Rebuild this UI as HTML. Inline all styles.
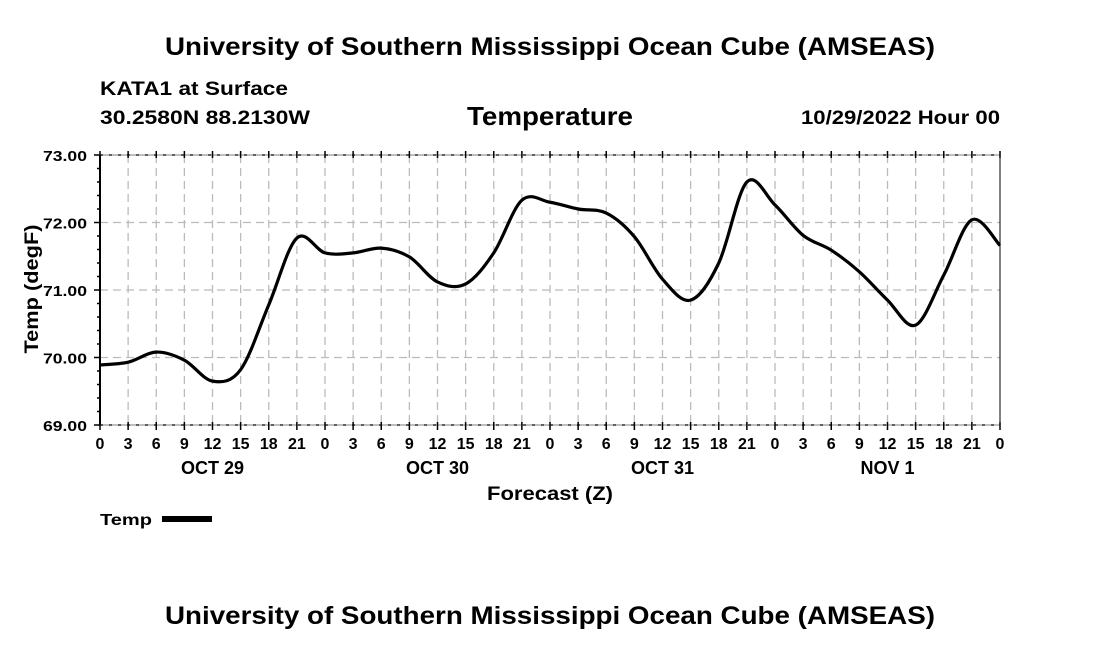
<!DOCTYPE html>
<html><head><meta charset="utf-8"><style>
html,body{margin:0;padding:0;background:#fff;width:1100px;height:650px;overflow:hidden}
svg text{font-family:"Liberation Sans",Arial,sans-serif;font-weight:bold;fill:#000}
</style></head><body>
<svg id="s" width="1100" height="650" xmlns="http://www.w3.org/2000/svg">
<text x="165" y="55" font-size="25" textLength="770" lengthAdjust="spacingAndGlyphs">University of Southern Mississippi Ocean Cube (AMSEAS)</text>
<text x="165" y="624" font-size="25" textLength="770" lengthAdjust="spacingAndGlyphs">University of Southern Mississippi Ocean Cube (AMSEAS)</text>
<text x="100" y="95" font-size="19" textLength="188" lengthAdjust="spacingAndGlyphs">KATA1 at Surface</text>
<text x="100" y="124" font-size="19" textLength="210" lengthAdjust="spacingAndGlyphs">30.2580N  88.2130W</text>
<text x="467" y="125" font-size="26" textLength="166" lengthAdjust="spacingAndGlyphs">Temperature</text>
<text x="801" y="124" font-size="19" textLength="199" lengthAdjust="spacingAndGlyphs">10/29/2022 Hour 00</text>
<text x="487" y="500" font-size="19" textLength="126" lengthAdjust="spacingAndGlyphs">Forecast (Z)</text>
<text x="38" y="289" font-size="19" text-anchor="middle" textLength="129" lengthAdjust="spacingAndGlyphs" transform="rotate(-90 38 289)">Temp (degF)</text>
<text x="100" y="525" font-size="16" textLength="52" lengthAdjust="spacingAndGlyphs">Temp</text>
<rect x="162" y="516" width="50" height="6" fill="#000"/>
<g id="g"></g>
</svg>
<script>
var g=document.getElementById('g'),h='';
var X0=100,X1=1000,Y0=155,Y1=425;
function xh(t){return X0+t*9.375}function yt(v){return Y0+(73-v)*67.5}
for(var i=1;i<32;i++){var x=xh(i*3);h+='<line x1="'+x+'" y1="'+Y0+'" x2="'+x+'" y2="'+Y1+'" stroke="#bbb" stroke-width="1.3" stroke-dasharray="8,5"/>';}
for(var v=70;v<=72;v++){var y=yt(v);h+='<line x1="'+X0+'" y1="'+y+'" x2="'+X1+'" y2="'+y+'" stroke="#bbb" stroke-width="1.3" stroke-dasharray="8,5"/>';}
h+='<line x1="'+X0+'" y1="'+Y0+'" x2="'+X1+'" y2="'+Y0+'" stroke="#000" stroke-width="1.2" stroke-dasharray="3,6"/>';
h+='<line x1="'+X0+'" y1="'+Y1+'" x2="'+X1+'" y2="'+Y1+'" stroke="#000" stroke-width="1.2" stroke-dasharray="3,6"/>';
h+='<line x1="'+X0+'" y1="'+Y0+'" x2="'+X0+'" y2="'+Y1+'" stroke="#000" stroke-width="2"/>';
h+='<line x1="'+X1+'" y1="'+Y0+'" x2="'+X1+'" y2="'+Y1+'" stroke="#000" stroke-width="1"/>';
h+='<line x1="'+(X0-4)+'" y1="'+Y0+'" x2="'+X1+'" y2="'+Y0+'" stroke="#000" stroke-width="0.6"/>';
h+='<line x1="'+(X0-4)+'" y1="'+Y1+'" x2="'+X1+'" y2="'+Y1+'" stroke="#000" stroke-width="0.6"/>';
for(var i=0;i<=20;i++){var y=Y0+i*13.5;var L=(i%5==0)?6:3;h+='<line x1="'+(X0-L)+'" y1="'+y+'" x2="'+X0+'" y2="'+y+'" stroke="#000" stroke-width="1.5"/>';}
for(var v=69;v<=73;v++){h+='<text x="43" y="'+(yt(v)+6)+'" font-size="15" textLength="44" lengthAdjust="spacingAndGlyphs">'+v+'.00</text>';}
var lab=[0,3,6,9,12,15,18,21];
for(var i=0;i<=32;i++){var x=xh(i*3);
h+='<line x1="'+x+'" y1="'+(Y0-4)+'" x2="'+x+'" y2="'+(Y0+3)+'" stroke="#000" stroke-width="1.5"/>';
h+='<line x1="'+x+'" y1="'+(Y1-3)+'" x2="'+x+'" y2="'+(Y1+5)+'" stroke="#000" stroke-width="1.5"/>';
h+='<text x="'+x+'" y="449" font-size="16" text-anchor="middle">'+lab[i%8]+'</text>';}
var days=['OCT 29','OCT 30','OCT 31','NOV 1'];
for(var d=0;d<4;d++)h+='<text x="'+xh(d*24+12)+'" y="474" font-size="18" text-anchor="middle">'+days[d]+'</text>';
var T=[69.89,69.93,70.08,69.96,69.65,69.82,70.78,71.77,71.55,71.55,71.62,71.49,71.12,71.09,71.55,72.33,72.30,72.2,72.14,71.79,71.16,70.85,71.4,72.6,72.26,71.81,71.59,71.27,70.85,70.48,71.22,72.04,71.66];
var P=T.map(function(v,i){return [xh(i*3),yt(v)]});
var d='M'+P[0][0]+','+P[0][1];
for(var i=0;i<P.length-1;i++){var p0=P[Math.max(i-1,0)],p1=P[i],p2=P[i+1],p3=P[Math.min(i+2,P.length-1)];
d+=' C'+(p1[0]+(p2[0]-p0[0])/6)+','+(p1[1]+(p2[1]-p0[1])/6)+' '+(p2[0]-(p3[0]-p1[0])/6)+','+(p2[1]-(p3[1]-p1[1])/6)+' '+p2[0]+','+p2[1];}
h+='<path d="'+d+'" fill="none" stroke="#000" stroke-width="3.2" stroke-linejoin="round"/>';
g.innerHTML=h;
</script>
</body></html>
